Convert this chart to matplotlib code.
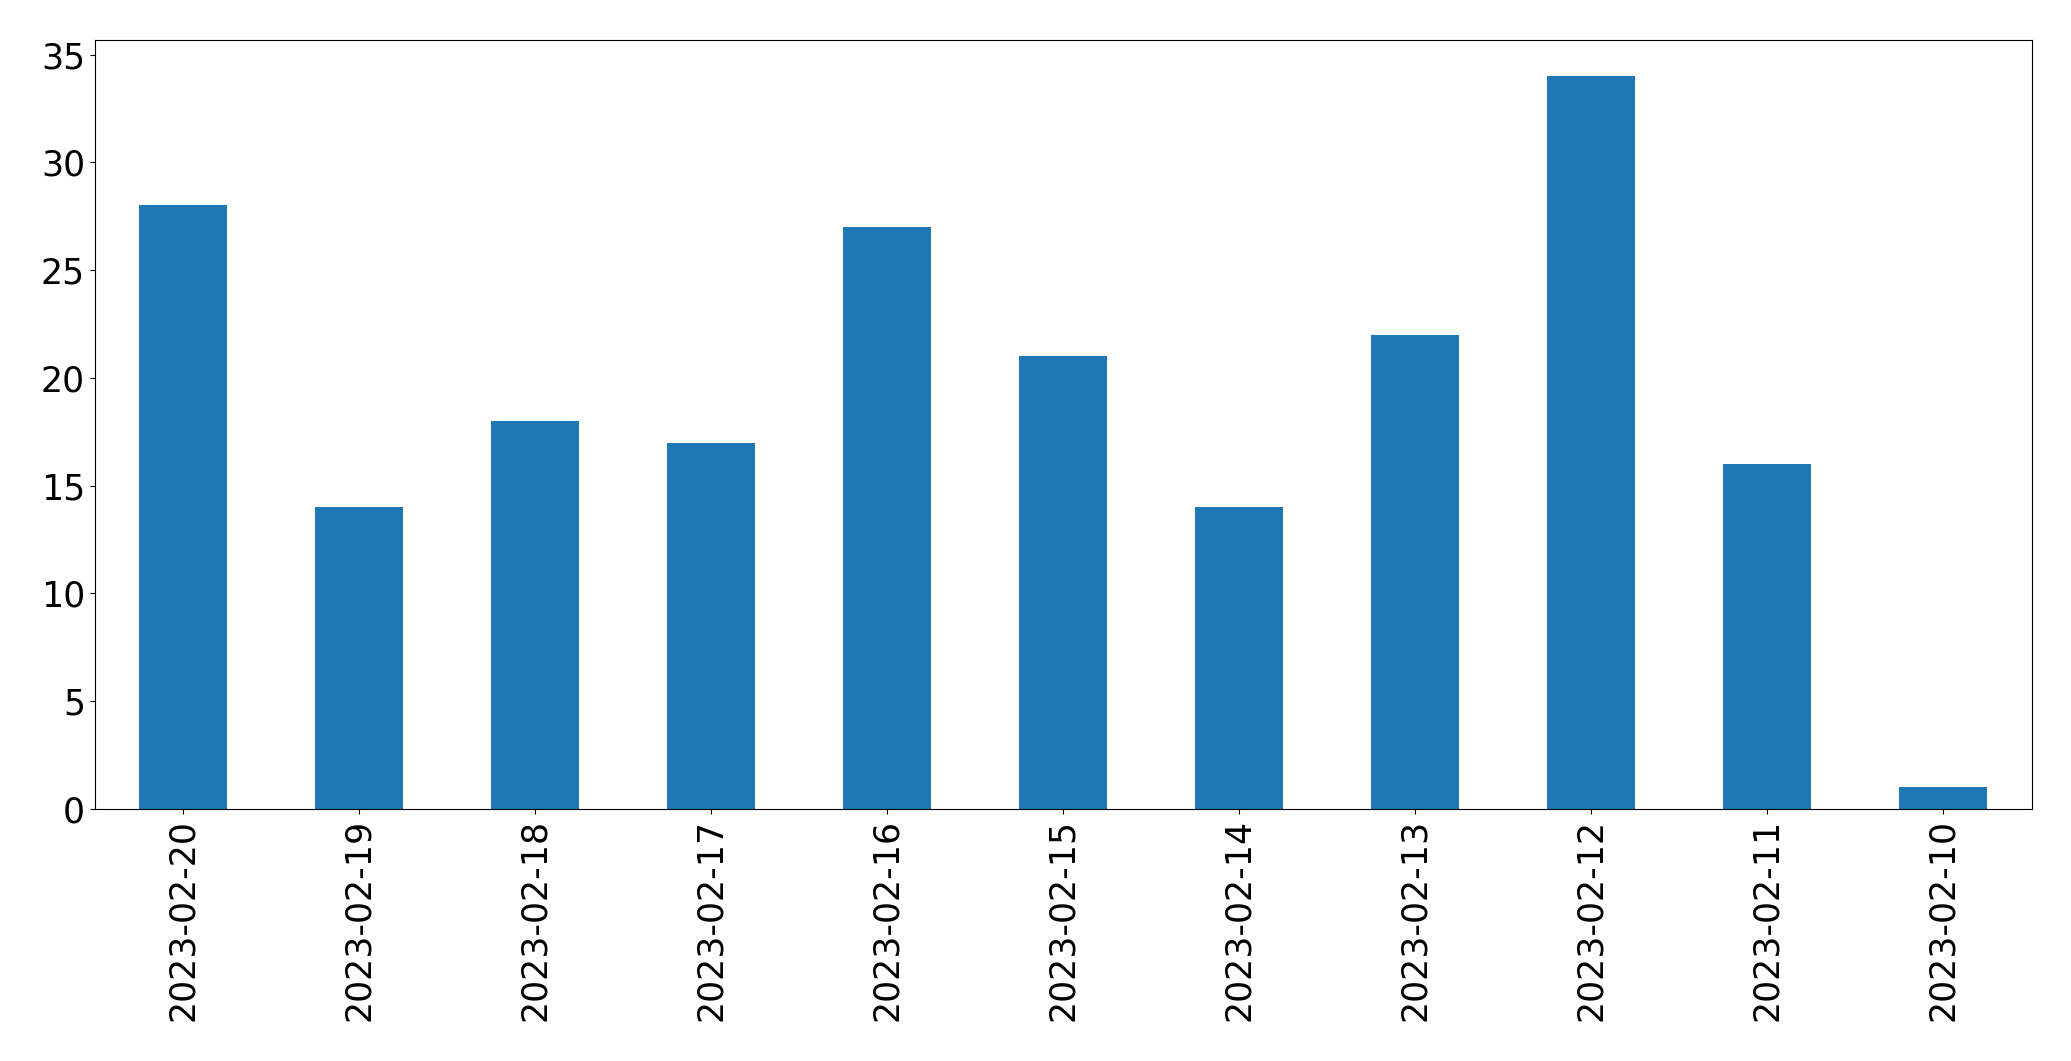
import matplotlib
matplotlib.use("Agg")
import matplotlib.pyplot as plt

dates = ["2023-02-20", "2023-02-19", "2023-02-18", "2023-02-17", "2023-02-16",
         "2023-02-15", "2023-02-14", "2023-02-13", "2023-02-12", "2023-02-11",
         "2023-02-10"]
counts = [28, 14, 18, 17, 27, 21, 14, 22, 34, 16, 1]

fig = plt.figure(figsize=(20.71, 10.61), dpi=100)
ax = fig.add_axes([94.7 / 2071, 1 - 809 / 1061, (2031.5 - 94.7) / 2071, (809 - 39.5) / 1061])
x = list(range(len(dates)))
ax.bar(x, counts, width=0.5, color="#1f77b4")
ax.set_xlim(-0.5, len(dates) - 0.5)
ax.set_ylim(0, max(counts) * 1.05)
ax.set_xticks(x)
ax.set_xticklabels(dates, rotation=90)
ax.tick_params(axis="both", labelsize=25)
fig.savefig("out.png", dpi=100)
